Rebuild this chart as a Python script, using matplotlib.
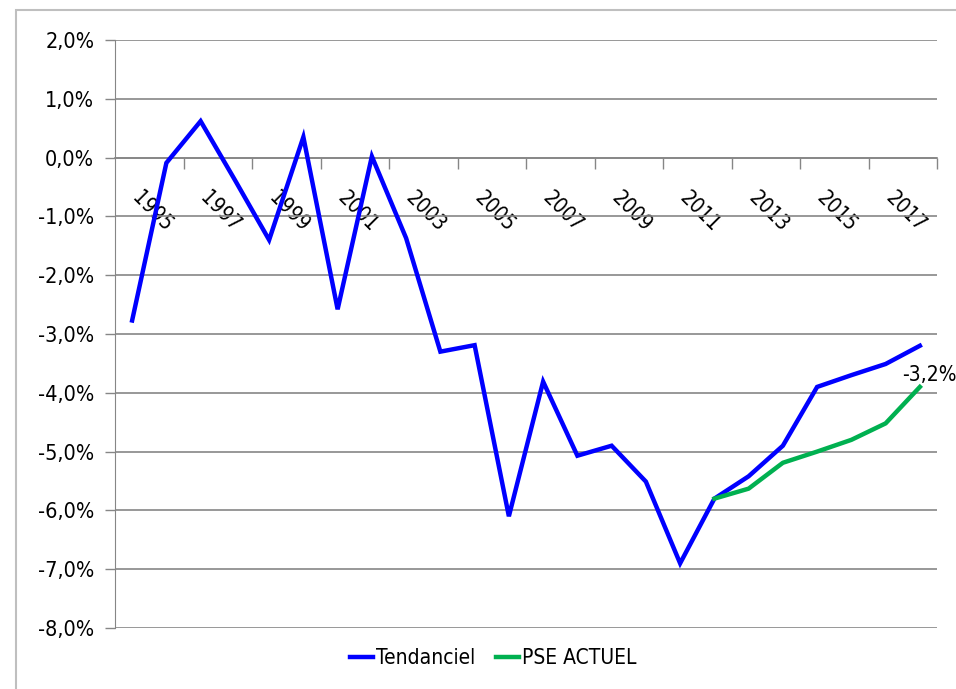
import matplotlib
matplotlib.use('Agg')
import matplotlib.pyplot as plt
import matplotlib.transforms as mtransforms
from matplotlib.patches import Rectangle
import numpy as np

plt.rcParams['font.family'] = ['DejaVu Sans']
plt.rcParams['font.stretch'] = 'condensed'

years = list(range(1995, 2019))
tendanciel = [-2.77, -0.09, 0.62, -0.38, -1.40, 0.35, -2.58, 0.02, -1.37, -3.30,
              -3.19, -6.10, -3.81, -5.07, -4.90, -5.51, -6.90, -5.80, -5.42, -4.90,
              -3.90, -3.70, -3.51, -3.20]
pse_years = list(range(2012, 2019))
pse_actuel = [-5.80, -5.63, -5.19, -5.00, -4.80, -4.52, -3.90]
end_label = '-3,2%'

W, H, DPI = 956, 689, 100
fig = plt.figure(figsize=(W / DPI, H / DPI), dpi=DPI)
ax = fig.add_axes([115 / W, 1 - 628 / H, (937 - 115) / W, (628 - 40) / H])

grid_c = '#868686'
x = np.arange(len(years))
xp = np.array([years.index(y) for y in pse_years])

ax.plot(x, tendanciel, color='#0000FF', lw=3.2, solid_joinstyle='miter', label='Tendanciel', zorder=3)
ax.plot(xp, pse_actuel, color='#00B050', lw=3.2, label='PSE ACTUEL', zorder=4)

ax.set_xlim(-0.5, len(years) - 0.5)
ax.set_ylim(-8, 2)

# y axis
yt = np.arange(-8, 2.01, 1)
ax.set_yticks(yt)
ax.set_yticklabels([('%.1f%%' % v).replace('.', ',') for v in yt], fontsize=15.5)
ax.tick_params(axis='y', length=7, color=grid_c, pad=8, width=1)
ax.grid(axis='y', color=grid_c, lw=1.2, zorder=0)

# x axis at zero
for s in ['top', 'right']:
    ax.spines[s].set_visible(False)
ax.spines['left'].set_color(grid_c)
ax.spines['bottom'].set_position(('data', 0))
ax.spines['bottom'].set_color(grid_c)
ax.spines['bottom'].set_linewidth(1.2)

ax.set_xticks(x[::2])
ax.set_xticklabels([str(y) for y in years[::2]], rotation=-45, ha='left', va='top', fontsize=15)
ax.set_xticks(np.arange(1.5, len(years), 2), minor=True)
ax.tick_params(axis='x', which='major', length=0, pad=22)
ax.tick_params(axis='x', which='minor', length=8, color=grid_c, width=1)
off = mtransforms.ScaledTranslation(-4 / DPI, 0, fig.dpi_scale_trans)
for lab in ax.get_xticklabels():
    lab.set_transform(lab.get_transform() + off)

ax.text(x[-1] + 0.28, -3.70, end_label, fontsize=15, ha='center', va='center', zorder=5)

leg = ax.legend(loc='upper center', bbox_to_anchor=(0.46, -0.002), ncol=2, frameon=False,
                fontsize=15, handlelength=1.1, handletextpad=0.15, columnspacing=1.0)

# outer chart frame
fig.add_artist(Rectangle((16 / W, -0.1), 1.2, 1 - 10 / H + 0.1, transform=fig.transFigure,
                         fill=False, edgecolor='#BFBFBF', lw=1.5))

fig.savefig('out.png', dpi=DPI)
